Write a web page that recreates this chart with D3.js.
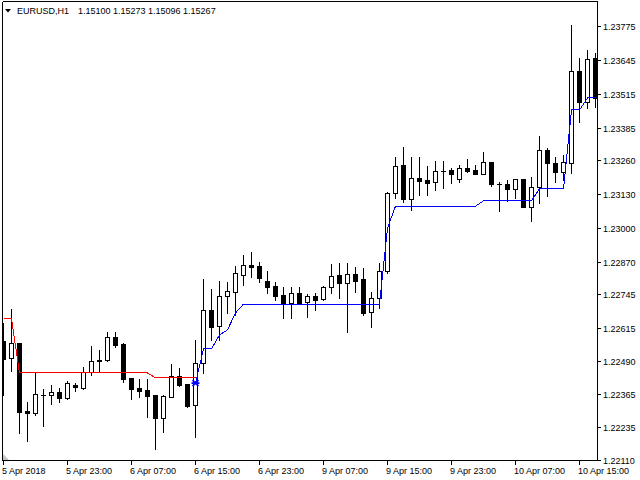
<!DOCTYPE html>
<html>
<head>
<meta charset="utf-8">
<script src="https://d3js.org/d3.v7.min.js"></script>
<style>
  html, body { margin: 0; padding: 0; background: #fff; }
  svg { display: block; }
  text { font-family: "Liberation Sans", Arial, sans-serif; font-size: 9px; fill: #000; }
</style>
</head>
<body>
<div id="graph-container"></div>
<script>
// Données : bougies EURUSD H1
const openPrices = [
  1.22567, 1.22501, 1.22559, 1.22298, 1.22290, 1.22361, 1.22359, 1.22371, 1.22348, 1.22398,
  1.22386, 1.22448, 1.22494, 1.22494, 1.22582, 1.22555, 1.22425, 1.22386, 1.22379, 1.22359,
  1.22271, 1.22352, 1.22432, 1.22402, 1.22321, 1.22482, 1.22685, 1.22624, 1.22739, 1.22755,
  1.22820, 1.22858, 1.22854, 1.22797, 1.22778, 1.22743, 1.22712, 1.22751, 1.22716, 1.22739,
  1.22728, 1.22774, 1.22820, 1.22789, 1.22824, 1.22804, 1.22678, 1.22731, 1.22835, 1.23134,
  1.23242, 1.23111, 1.23191, 1.23184, 1.23177, 1.23219, 1.23223, 1.23188, 1.23230, 1.23223,
  1.23207, 1.23253, 1.23169, 1.23169, 1.23150, 1.23188, 1.23081, 1.23157, 1.23299, 1.23249,
  1.23215, 1.23249, 1.23602, 1.23483, 1.23652
];
const highPrices = [
  1.22636, 1.22689, 1.22559, 1.22333, 1.22444, 1.22382, 1.22398, 1.22386, 1.22413, 1.22405,
  1.22467, 1.22547, 1.22532, 1.22601, 1.22601, 1.22559, 1.22425, 1.22421, 1.22421, 1.22359,
  1.22359, 1.22478, 1.22463, 1.22402, 1.22570, 1.22804, 1.22766, 1.22797, 1.22793, 1.22854,
  1.22897, 1.22908, 1.22870, 1.22835, 1.22793, 1.22774, 1.22774, 1.22774, 1.22747, 1.22751,
  1.22778, 1.22862, 1.22866, 1.22866, 1.22850, 1.22847, 1.22755, 1.22866, 1.23138, 1.23272,
  1.23311, 1.23272, 1.23272, 1.23238, 1.23257, 1.23257, 1.23230, 1.23242, 1.23265, 1.23242,
  1.23292, 1.23253, 1.23177, 1.23184, 1.23188, 1.23188, 1.23196, 1.23353, 1.23307, 1.23272,
  1.23280, 1.23779, 1.23652, 1.23683, 1.23671
];
const lowPrices = [
  1.22359, 1.22451, 1.22214, 1.22183, 1.22283, 1.22240, 1.22325, 1.22333, 1.22344, 1.22375,
  1.22382, 1.22436, 1.22448, 1.22490, 1.22544, 1.22409, 1.22344, 1.22352, 1.22275, 1.22152,
  1.22217, 1.22352, 1.22394, 1.22313, 1.22198, 1.22444, 1.22570, 1.22570, 1.22674, 1.22666,
  1.22781, 1.22812, 1.22793, 1.22751, 1.22724, 1.22655, 1.22655, 1.22708, 1.22659, 1.22685,
  1.22724, 1.22751, 1.22731, 1.22601, 1.22755, 1.22666, 1.22620, 1.22693, 1.22827, 1.23115,
  1.23100, 1.23069, 1.23127, 1.23127, 1.23146, 1.23153, 1.23173, 1.23177, 1.23215, 1.23207,
  1.23207, 1.23161, 1.23065, 1.23104, 1.23115, 1.23081, 1.23027, 1.23096, 1.23123, 1.23177,
  1.23184, 1.23211, 1.23407, 1.23460, 1.23464
];
const closePrices = [
  1.22497, 1.22559, 1.22294, 1.22290, 1.22363, 1.22361, 1.22371, 1.22348, 1.22405, 1.22390,
  1.22448, 1.22490, 1.22490, 1.22582, 1.22551, 1.22421, 1.22382, 1.22375, 1.22356, 1.22271,
  1.22356, 1.22432, 1.22398, 1.22317, 1.22482, 1.22685, 1.22620, 1.22739, 1.22758, 1.22827,
  1.22858, 1.22850, 1.22808, 1.22774, 1.22739, 1.22708, 1.22751, 1.22712, 1.22739, 1.22724,
  1.22774, 1.22816, 1.22789, 1.22824, 1.22797, 1.22674, 1.22731, 1.22835, 1.23134, 1.23239,
  1.23111, 1.23191, 1.23180, 1.23173, 1.23219, 1.23219, 1.23207, 1.23230, 1.23219, 1.23207,
  1.23253, 1.23169, 1.23169, 1.23150, 1.23188, 1.23081, 1.23157, 1.23299, 1.23249, 1.23215,
  1.23253, 1.23602, 1.23483, 1.23648, 1.23499
];

// Indicateur (stop suiveur) : tendance baissière en rouge, haussière en bleu
const redStart = 0;
const redLine = [
  1.22651, 1.22651, 1.22444, 1.22444, 1.22444, 1.22444, 1.22444, 1.22444, 1.22444, 1.22444,
  1.22444, 1.22444, 1.22444, 1.22444, 1.22444, 1.22444, 1.22444, 1.22444, 1.22444, 1.22425,
  1.22425, 1.22425, 1.22425, 1.22425, 1.22425
];
const blueStart = 24;
const blueLine = [
  1.22405, 1.22536, 1.22536, 1.22590, 1.22609, 1.22674, 1.22708, 1.22708, 1.22708, 1.22708,
  1.22708, 1.22708, 1.22708, 1.22708, 1.22708, 1.22708, 1.22708, 1.22708, 1.22708, 1.22708,
  1.22708, 1.22708, 1.22708, 1.22708, 1.23000, 1.23084, 1.23084, 1.23084, 1.23084, 1.23084,
  1.23084, 1.23084, 1.23084, 1.23084, 1.23084, 1.23084, 1.23104, 1.23104, 1.23104, 1.23104,
  1.23104, 1.23104, 1.23104, 1.23150, 1.23150, 1.23150, 1.23150, 1.23453, 1.23453, 1.23499,
  1.23499
];

// Axes : graduations
const priceTicks = [
  1.23775, 1.23645, 1.23515, 1.23385, 1.23260, 1.23130, 1.23000,
  1.22870, 1.22745, 1.22615, 1.22490, 1.22365, 1.22235, 1.22110
];
const timeTickBars = [0, 8, 16, 24, 32, 40, 48, 56, 64, 72];
const timeTickLabels = [
  "5 Apr 2018", "5 Apr 23:00", "6 Apr 07:00", "6 Apr 15:00", "6 Apr 23:00",
  "9 Apr 07:00", "9 Apr 15:00", "9 Apr 23:00", "10 Apr 07:00", "10 Apr 15:00"
];
const symbolTitle = "EURUSD,H1";
const titlePrices = "1.15100 1.15273 1.15096 1.15267";

// Configuration
const width = 640, height = 480;
const plot = { left: 2, top: 1, right: 597, bottom: 460 };

const svg = d3.select("#graph-container")
  .append("svg")
  .attr("width", width)
  .attr("height", height);

svg.append("rect").attr("width", width).attr("height", height).attr("fill", "#fff");

// Échelles
const nBars = openPrices.length;
const xScale = d3.scaleLinear()
  .domain([0, nBars - 1])
  .range([3, 3 + 8 * (nBars - 1)]);

const yScale = d3.scaleLinear()
  .domain([1.22110, 1.23775])
  .range([460, 26]);

const px = i => Math.round(xScale(i)) + 0.5;
const py = v => Math.round(yScale(v));

svg.append("clipPath").attr("id", "plot-clip")
  .append("rect")
  .attr("x", plot.left + 1).attr("y", plot.top + 1)
  .attr("width", plot.right - plot.left - 1)
  .attr("height", plot.bottom - plot.top - 1);

const chart = svg.append("g").attr("clip-path", "url(#plot-clip)");

// Bougies
const bars = d3.range(nBars).map(i => ({
  i, o: openPrices[i], h: highPrices[i], l: lowPrices[i], c: closePrices[i]
}));

const candle = chart.selectAll(".candle")
  .data(bars)
  .enter().append("g")
  .attr("class", "candle")
  .attr("shape-rendering", "crispEdges");

candle.append("line")
  .attr("x1", d => px(d.i)).attr("x2", d => px(d.i))
  .attr("y1", d => py(d.h)).attr("y2", d => py(d.l) + 1)
  .attr("stroke", "#000");

candle.each(function(d) {
  const g = d3.select(this);
  const top = py(Math.max(d.o, d.c));
  const bot = py(Math.min(d.o, d.c));
  if (bot - top < 1) {
    // doji : simple trait
    g.append("line")
      .attr("x1", px(d.i) - 2.5).attr("x2", px(d.i) + 2.5)
      .attr("y1", top + 0.5).attr("y2", top + 0.5)
      .attr("stroke", "#000");
  } else {
    g.append("rect")
      .attr("x", px(d.i) - 2)
      .attr("y", top + 0.5)
      .attr("width", 4)
      .attr("height", bot - top)
      .attr("fill", d.c >= d.o ? "#fff" : "#000")
      .attr("stroke", "#000");
  }
});

// Lignes de l'indicateur
const line = d3.line()
  .x(d => px(d.i))
  .y(d => yScale(d.v));

chart.append("path")
  .datum(redLine.map((v, k) => ({ i: redStart + k, v })))
  .attr("d", line)
  .attr("fill", "none")
  .attr("stroke", "#ff0000")
  .attr("stroke-width", 1)
  .attr("shape-rendering", "crispEdges");

chart.append("path")
  .datum(blueLine.map((v, k) => ({ i: blueStart + k, v })))
  .attr("d", line)
  .attr("fill", "none")
  .attr("stroke", "#0000ff")
  .attr("stroke-width", 1)
  .attr("shape-rendering", "crispEdges");

// Marqueur de retournement
const mx = px(blueStart), my = yScale(blueLine[0]);
chart.append("path")
  .attr("d", `M${mx - 3},${my - 3}L${mx + 3},${my + 3}M${mx - 3},${my + 3}L${mx + 3},${my - 3}M${mx - 4},${my}L${mx + 4},${my}`)
  .attr("stroke", "#0000ff")
  .attr("stroke-width", 1.6)
  .attr("fill", "none");

// Cadre
const frame = svg.append("g").attr("shape-rendering", "crispEdges").attr("stroke", "#000");
frame.append("line").attr("x1", plot.left + 0.5).attr("x2", plot.right + 0.5).attr("y1", plot.top + 0.5).attr("y2", plot.top + 0.5);
frame.append("line").attr("x1", plot.left + 0.5).attr("x2", plot.left + 0.5).attr("y1", plot.top + 0.5).attr("y2", plot.bottom + 0.5);
frame.append("line").attr("x1", plot.right + 0.5).attr("x2", plot.right + 0.5).attr("y1", plot.top + 0.5).attr("y2", plot.bottom + 0.5);
frame.append("line").attr("x1", plot.left + 0.5).attr("x2", plot.right + 0.5).attr("y1", plot.bottom + 0.5).attr("y2", plot.bottom + 0.5);

// Petit triangle gris en bas à gauche
svg.append("path")
  .attr("d", `M${plot.left + 1},${plot.bottom - 6}L${plot.left + 1},${plot.bottom}L${plot.left + 7},${plot.bottom}Z`)
  .attr("fill", "#c4c4c4");

// Axe des prix (à droite)
const yAxis = svg.append("g").attr("class", "y-axis");
priceTicks.forEach(v => {
  const y = py(v);
  yAxis.append("line")
    .attr("x1", plot.right + 1).attr("x2", plot.right + 4)
    .attr("y1", y + 0.5).attr("y2", y + 0.5)
    .attr("stroke", "#000").attr("shape-rendering", "crispEdges");
  yAxis.append("text")
    .attr("x", plot.right + 6)
    .attr("y", y + 3.5)
    .text(v.toFixed(5));
});

// Axe du temps (en bas)
const xAxis = svg.append("g").attr("class", "x-axis");
timeTickBars.forEach((b, k) => {
  const x = px(b);
  xAxis.append("line")
    .attr("x1", x).attr("x2", x)
    .attr("y1", plot.bottom + 1).attr("y2", plot.bottom + 5)
    .attr("stroke", "#000").attr("shape-rendering", "crispEdges");
  xAxis.append("text")
    .attr("x", x - 1.5)
    .attr("y", 474)
    .text(timeTickLabels[k]);
});

// Titre
svg.append("path").attr("d", "M5,9L11,9L8,12.5Z").attr("fill", "#000");
svg.append("text").attr("x", 17).attr("y", 14).text(symbolTitle);
svg.append("text").attr("x", 78).attr("y", 14).text(titlePrices);
</script>
</body>
</html>
